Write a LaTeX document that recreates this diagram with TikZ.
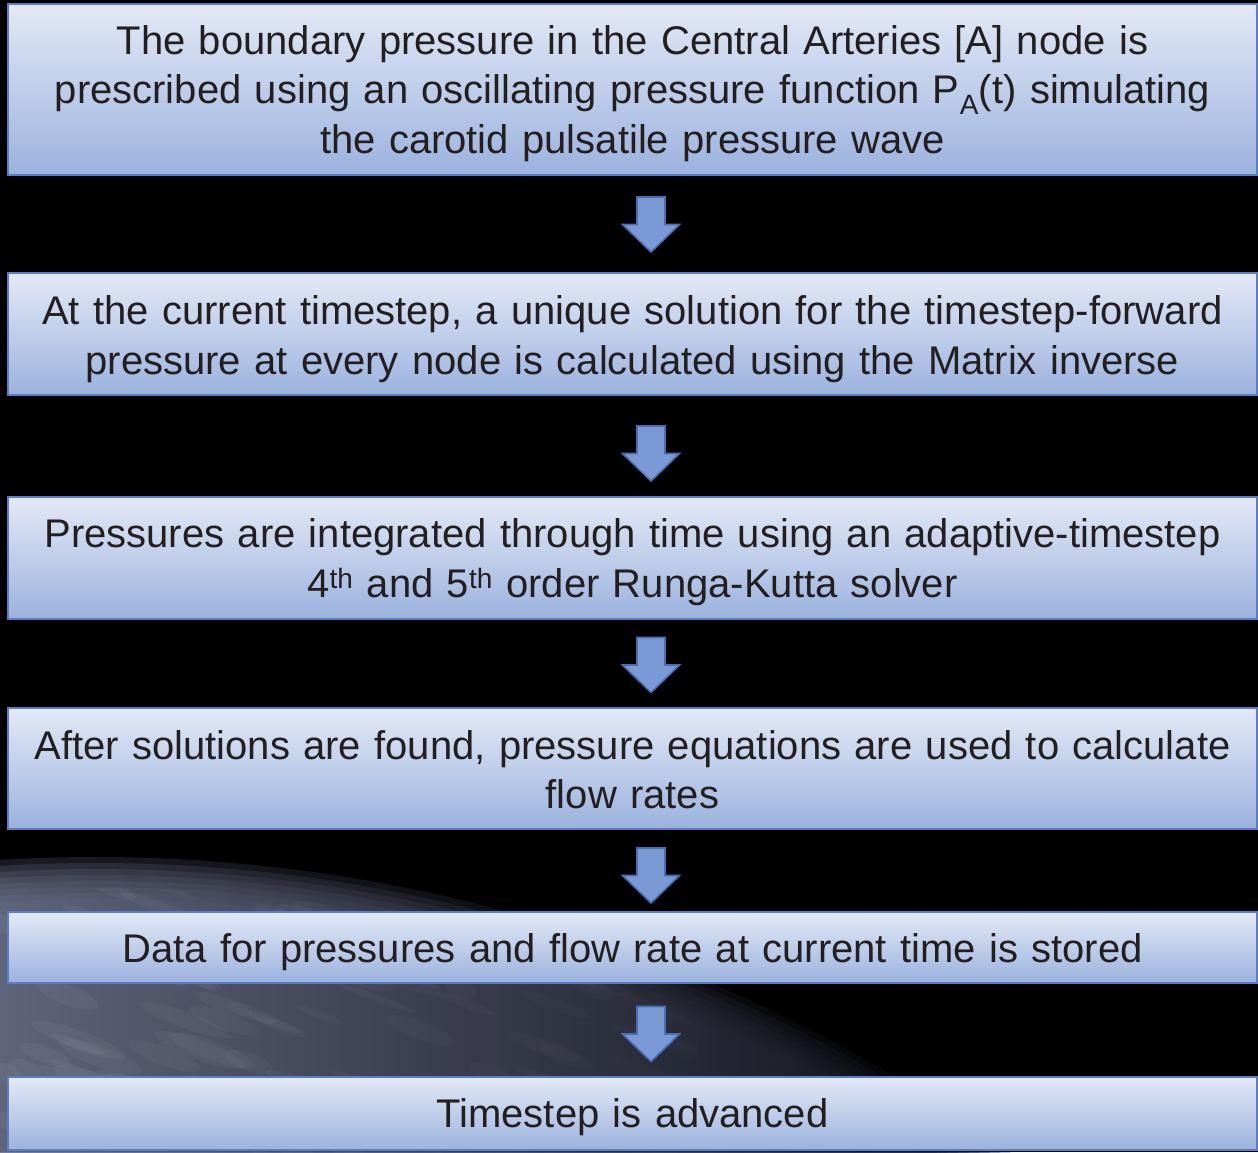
\documentclass[tikz,border=0pt]{standalone}
\usepackage{fontspec}
\setmainfont{Liberation Sans}
\usetikzlibrary{calc}
\definecolor{boxtop}{HTML}{E3E9F6}
\definecolor{boxbot}{HTML}{9BB2DE}
\definecolor{boxedge}{HTML}{5A7DC3}
\definecolor{arrfill}{HTML}{7B9AD5}
\definecolor{arredge}{HTML}{4A6DB4}
\definecolor{txt}{HTML}{231F20}
\definecolor{earthlight}{HTML}{6A7089}
\definecolor{earthmid}{HTML}{545A78}
\definecolor{earthdark}{HTML}{07080F}
\tikzset{
  stepbox/.style={draw=boxedge, line width=2.5pt, top color=boxtop, bottom color=boxbot,
    minimum width=1249pt, inner sep=0pt},
  steptext/.style={text width=1240pt, align=center, text=txt,
    font=\fontsize{40}{49.5}\selectfont, inner sep=0pt},
  downarrow/.pic={\draw[arredge, fill=arrfill, line width=1.6pt, line join=miter]
    (-14,-27.5) -- (14,-27.5) -- (14,0) -- (28.5,0) -- (0,27.5) -- (-28.5,0) -- (-14,0) -- cycle;}
}
\begin{document}
\begin{tikzpicture}[x=1pt,y=-1pt]
\useasboundingbox (0,0) rectangle (1258,1152);
\fill[black] (0,0) rectangle (1258,1152);
% earth, with a soft horizon
\begin{scope}
  \clip (0,830) rectangle (1258,1152);
  \foreach \d in {0,6,...,42} {
    \begin{scope}
      \clip (96,2418) circle[radius={(1561-\d)*1pt}];
      \shade[left color=earthlight, middle color=earthmid, right color=earthdark, opacity=0.25]
        (0,830) rectangle (1100,1152);
    \end{scope}
  }
  \begin{scope}
    \clip (96,2418) circle[radius=1530pt];
    \pgfmathsetseed{7}
    \foreach \i in {1,...,160} {
      \pgfmathsetmacro{\ex}{rnd*800}
      \pgfmathsetmacro{\ey}{870+rnd*282}
      \pgfmathsetmacro{\ea}{10+rnd*40}
      \pgfmathsetmacro{\eb}{3+rnd*8}
      \fill[white, opacity={0.045*(1-\ex/900)}, rotate around={-20:(\ex,\ey)}]
        (\ex,\ey) ellipse[x radius=\ea pt, y radius=\eb pt];
    }
  \end{scope}
\end{scope}
% boxes
\node[stepbox, minimum height=171pt] (b1) at (632.5,89.5) {};
\node[stepbox, minimum height=122pt] (b2) at (632.5,334) {};
\node[stepbox, minimum height=122pt] (b3) at (632.5,558) {};
\node[stepbox, minimum height=121pt] (b4) at (632.5,768.5) {};
\node[stepbox, minimum height=71pt] (b5) at (632.5,947.5) {};
\node[stepbox, minimum height=73pt] (b6) at (632.5,1113.5) {};
% texts
\node[steptext] (t1) at ([yshift=-4pt]b1.center)
  {The boundary pressure in the Central Arteries [A] node is\\
   prescribed using an oscillating pressure function P\textsubscript{A}(t) simulating\\
   the carotid pulsatile pressure wave};
\node[steptext] (t2) at ([yshift=-5pt]b2.center)
  {At the current timestep, a unique solution for the timestep-forward\\
   pressure at every node is calculated using the Matrix inverse};
\node[steptext] (t3) at ([yshift=-4pt]b3.center)
  {Pressures are integrated through time using an adaptive-timestep\\
   4\textsuperscript{th} and 5\textsuperscript{th} order Runga-Kutta solver};
\node[steptext] (t4) at ([yshift=-1pt]b4.center)
  {After solutions are found, pressure equations are used to calculate\\
   flow rates};
\node[steptext] (t5) at ([yshift=-5pt]b5.center)
  {Data for pressures and flow rate at current time is stored};
\node[steptext] (t6) at ([yshift=-4pt]b6.center)
  {Timestep is advanced};
% arrows
\pic at (651,224.5) {downarrow};
\pic at (651,453.5) {downarrow};
\pic at (651,665) {downarrow};
\pic at (651,875.5) {downarrow};
\pic at (651,1034) {downarrow};
\end{tikzpicture}
\end{document}
